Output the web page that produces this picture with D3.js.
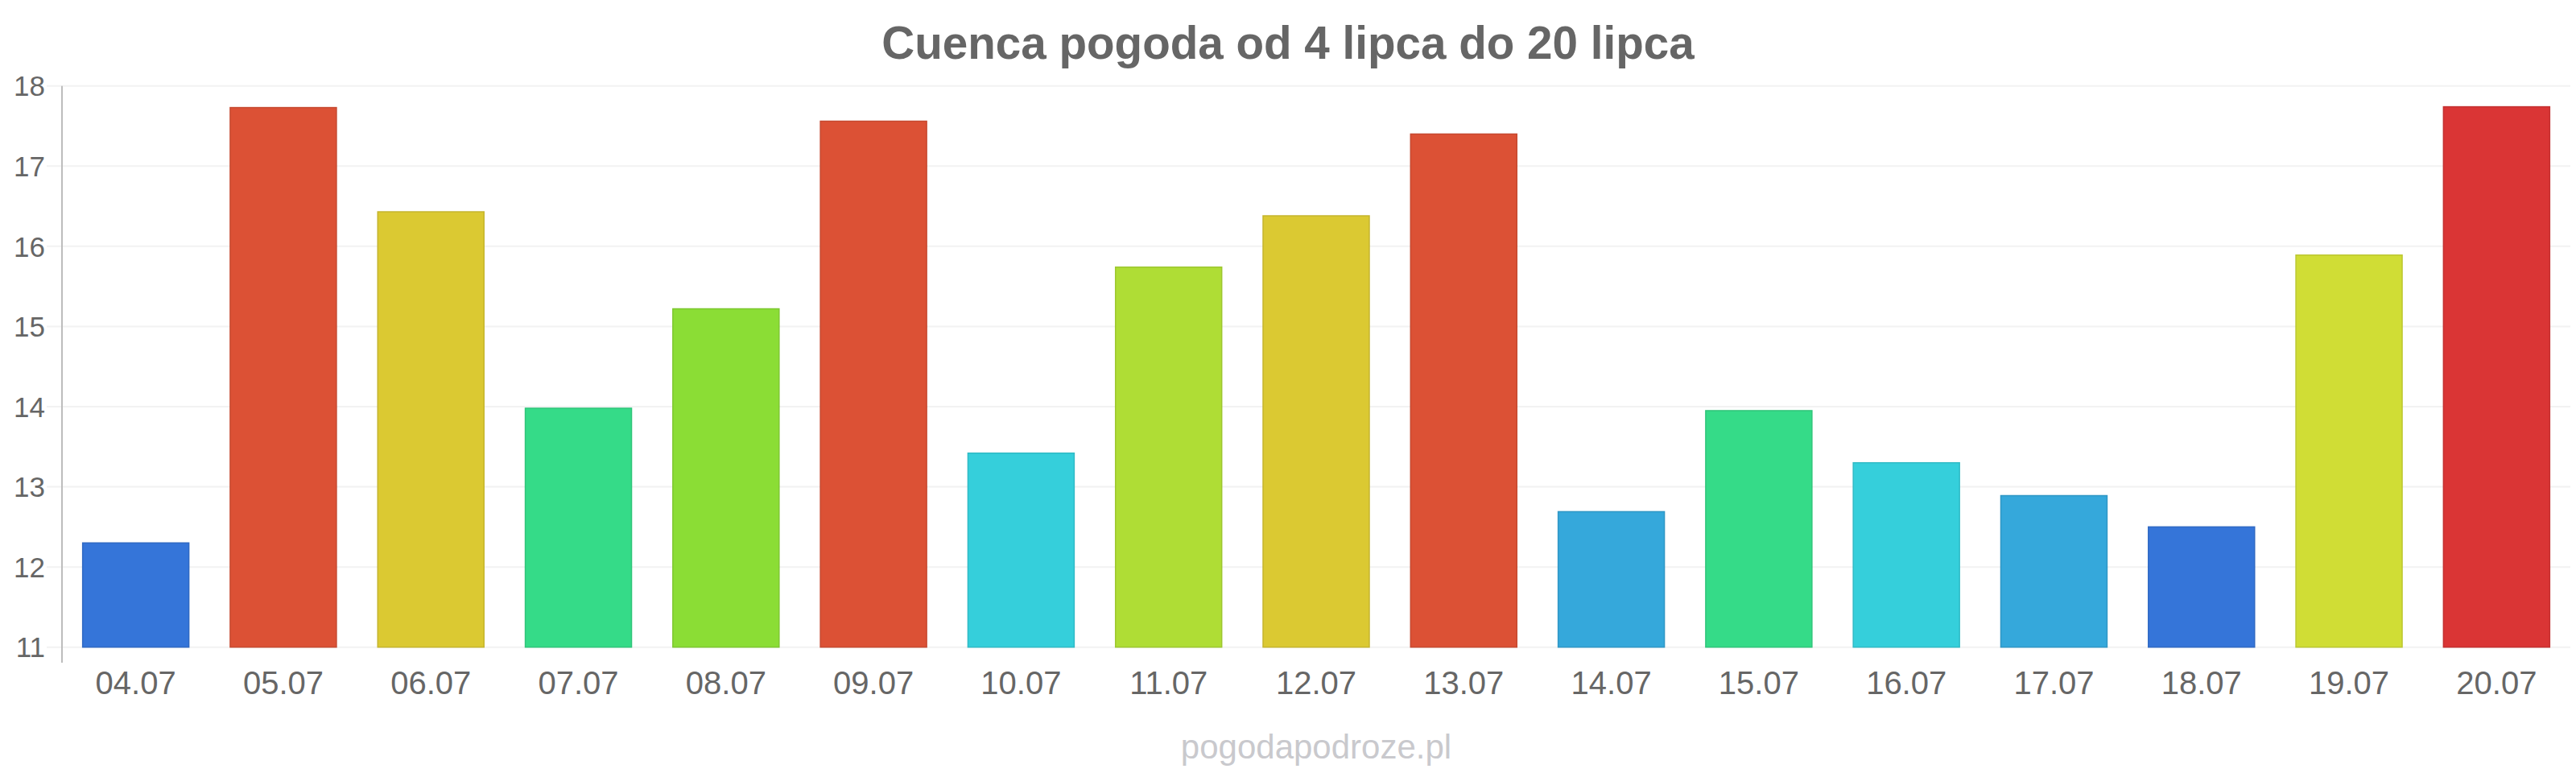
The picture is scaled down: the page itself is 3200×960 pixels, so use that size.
<!DOCTYPE html>
<html>
<head>
<meta charset="utf-8">
<script src="https://cdn.jsdelivr.net/npm/d3@7"></script>
<style>
  html, body { margin: 0; padding: 0; background: #ffffff; }
  svg { display: block; }
</style>
</head>
<body>
<svg id="chart" width="3200" height="960"></svg>
<script>
const titleText = "Cuenca pogoda od 4 lipca do 20 lipca";
const watermark = "pogodapodroze.pl";
const categories = ["04.07","05.07","06.07","07.07","08.07","09.07","10.07","11.07","12.07","13.07","14.07","15.07","16.07","17.07","18.07","19.07","20.07"];
const values = [12.3, 17.73, 16.43, 13.98, 15.22, 17.56, 13.42, 15.74, 16.38, 17.4, 12.69, 13.95, 13.3, 12.89, 12.5, 15.89, 17.74];
const colors = ["#3575d9","#dc5135","#dbc932","#35db88","#8bdd35","#dc5135","#35cfdb","#afdd35","#dbc932","#dc5135","#35a8db","#35db88","#35cfdb","#35a8db","#3575d9","#d0dd35","#da3535"];
const yTicks = [11, 12, 13, 14, 15, 16, 17, 18];

const svg = d3.select("#chart");
const font = "'Liberation Sans', Arial, sans-serif";

const x = d3.scaleBand().domain(categories).range([77, 3193]).paddingInner(0.28).paddingOuter(0.14);
const y = d3.scaleLinear().domain([11, 18]).range([803.7, 106.7]);

// gridlines
svg.append("g").selectAll("line").data(yTicks).join("line")
  .attr("x1", 58).attr("x2", 3193)
  .attr("y1", d => y(d)).attr("y2", d => y(d))
  .attr("stroke", "#f2f2f2").attr("stroke-width", 2);

// bars
svg.append("g").selectAll("rect").data(values).join("rect")
  .attr("x", (d, i) => x(categories[i]))
  .attr("width", x.bandwidth())
  .attr("y", d => y(d))
  .attr("height", d => y(11) - y(d))
  .attr("fill", (d, i) => colors[i])
  .attr("stroke", (d, i) => d3.color(colors[i]).darker(0.3))
  .attr("stroke-width", 1.5);

// y axis line
svg.append("line").attr("x1", 77).attr("x2", 77).attr("y1", 106.7).attr("y2", 823)
  .attr("stroke", "#bdbdbd").attr("stroke-width", 2);

// y tick labels
const yAxis = d3.axisLeft(y).tickValues(yTicks).tickSize(0).tickPadding(0).tickFormat(d3.format("d"));
const yg = svg.append("g").attr("transform", "translate(56,0)").call(yAxis);
yg.select(".domain").remove();
yg.selectAll("text").attr("font-family", font).attr("font-size", 35).attr("fill", "#666666").attr("dy", "0.35em");

// x tick labels
const xAxis = d3.axisBottom(x).tickSize(0).tickPadding(0);
const xg = svg.append("g").attr("transform", "translate(0,833)").call(xAxis);
xg.select(".domain").remove();
xg.selectAll("text").attr("font-family", font).attr("font-size", 40).attr("fill", "#666666").attr("dy", "0.72em");

// title
svg.append("text").attr("x", 1600).attr("y", 73).attr("text-anchor", "middle")
  .attr("font-family", font).attr("font-weight", "bold").attr("font-size", 56.6)
  .attr("fill", "#666666").text(titleText);

// watermark
svg.append("text").attr("x", 1635).attr("y", 942).attr("text-anchor", "middle")
  .attr("font-family", font).attr("font-size", 42)
  .attr("fill", "#c9c9cd").text(watermark);
</script>
</body>
</html>
